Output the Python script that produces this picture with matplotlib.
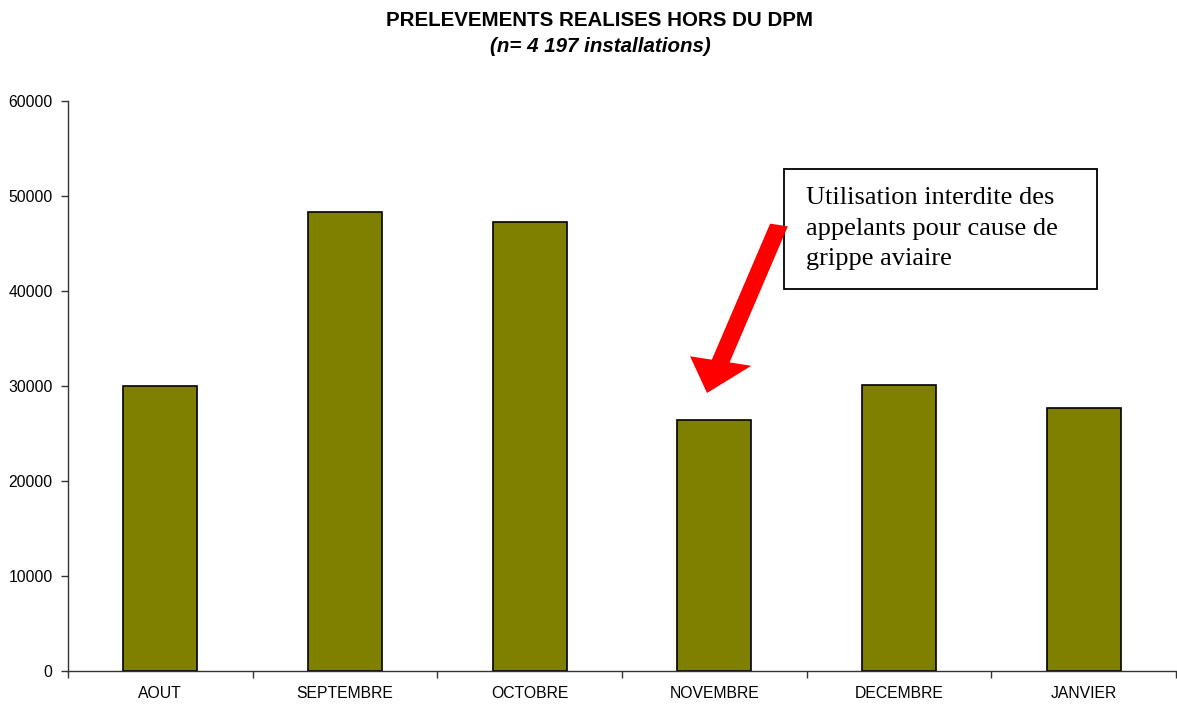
import matplotlib
matplotlib.use("Agg")
import matplotlib.pyplot as plt
import numpy as np

months = ["AOUT", "SEPTEMBRE", "OCTOBRE", "NOVEMBRE", "DECEMBRE", "JANVIER"]
values = [30030, 48350, 47230, 26420, 30100, 27720]
yticks = [0, 10000, 20000, 30000, 40000, 50000, 60000]

plt.rcParams['font.family'] = ['Liberation Sans', 'DejaVu Sans']

fig = plt.figure(figsize=(11.77, 7.07), dpi=100)
ax = fig.add_axes([68/1177, 1-671/707, (1176-68)/1177, 570/707])

x = np.arange(len(months))
ax.bar(x, values, width=0.4, color="#808000", edgecolor="black", linewidth=1.2)

ax.set_xlim(-0.5, len(months) - 0.5)
ax.set_ylim(0, 60000)
ax.set_yticks(yticks)
ax.set_yticklabels([str(v) for v in yticks], fontsize=11.3)

# category labels centred, tick marks on the boundaries
ax.set_xticks(x)
ax.set_xticklabels(months, fontsize=11.3)
ax.tick_params(axis="x", which="major", length=0, pad=11)
ax.set_xticks(np.arange(-0.5, len(months) - 0.4, 1), minor=True)
ax.tick_params(axis="x", which="minor", length=5, width=1, color="#333333", direction="out")
ax.tick_params(axis="y", length=5, width=1, color="#333333", direction="out", pad=6)

for s in ["top", "right"]:
    ax.spines[s].set_visible(False)
for s in ["left", "bottom"]:
    ax.spines[s].set_color("#333333")
    ax.spines[s].set_linewidth(1)

fig.text(600/1177, 1-20/707, "PRELEVEMENTS REALISES HORS DU DPM",
         ha="center", va="center", fontsize=14.8, fontweight="bold")
fig.text(600/1177, 1-46/707, "(n= 4 197 installations)",
         ha="center", va="center", fontsize=14.8, fontweight="bold", style="italic")

# annotation box
box = plt.Rectangle((784/1177, 1-289/707), (1097-784)/1177, 120/707,
                    transform=fig.transFigure, facecolor="white",
                    edgecolor="black", linewidth=1.3)
fig.patches.append(box)
fig.text(806/1177, 1-229/707,
         "Utilisation interdite des\nappelants pour cause de\ngrippe aviaire",
         ha="left", va="center", fontsize=19, family="Liberation Serif",
         linespacing=1.5)

fig.patches.append(matplotlib.patches.FancyArrow(
    779/1177, 1-225/707, (707-779)/1177, -(393-225)/707,
    width=11/707, head_width=38/707, head_length=33/707,
    length_includes_head=True, transform=fig.transFigure,
    color="#ff0000", linewidth=0))

fig.savefig("out.png", dpi=100)
